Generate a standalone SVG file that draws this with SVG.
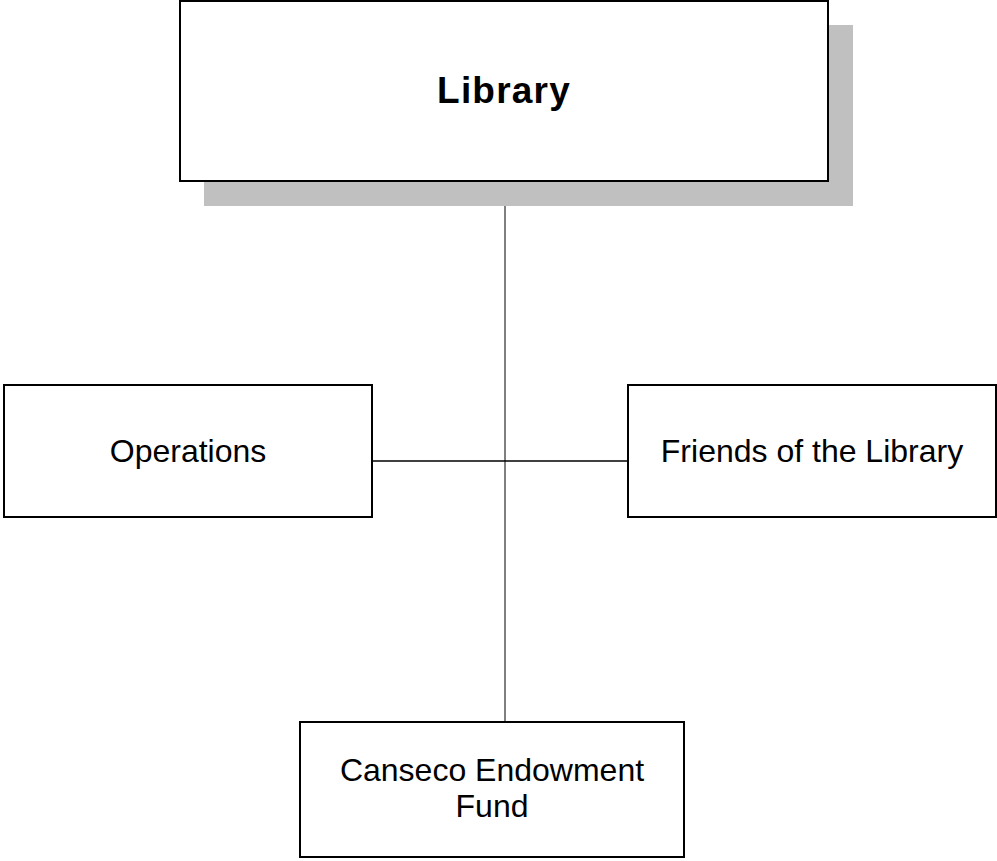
<svg xmlns="http://www.w3.org/2000/svg" width="997" height="861" viewBox="0 0 997 861">
<style>
.box{fill:#fff;stroke:#000;stroke-width:2}
.lbl{font-family:"Liberation Sans",Arial,sans-serif;font-size:32px;fill:#000;text-anchor:middle}
.title{font-family:"Liberation Sans",Arial,sans-serif;font-size:37px;font-weight:bold;letter-spacing:1.2px;fill:#000;text-anchor:middle}
.conn{stroke:#000;fill:none}
</style>
<rect width="997" height="861" fill="#fff"/>
<g id="connectors">
<line class="conn" x1="505" y1="206" x2="505" y2="722" stroke-width="1"/>
<line class="conn" x1="372" y1="461" x2="628" y2="461" stroke-width="1.5"/>
</g>
<g id="library">
<rect x="204" y="25" width="649" height="181" fill="#c0c0c0"/>
<rect class="box" x="180" y="1" width="648" height="180"/>
<text class="title" x="504" y="103">Library</text>
</g>
<g id="operations">
<rect class="box" x="4" y="385" width="368" height="132"/>
<text class="lbl" x="188" y="462">Operations</text>
</g>
<g id="friends">
<rect class="box" x="628" y="385" width="368" height="132"/>
<text class="lbl" x="812" y="462">Friends of the Library</text>
</g>
<g id="canseco">
<rect class="box" x="300" y="722" width="384" height="135"/>
<text class="lbl" x="492" y="781">Canseco Endowment</text>
<text class="lbl" x="492" y="817">Fund</text>
</g>
</svg>
